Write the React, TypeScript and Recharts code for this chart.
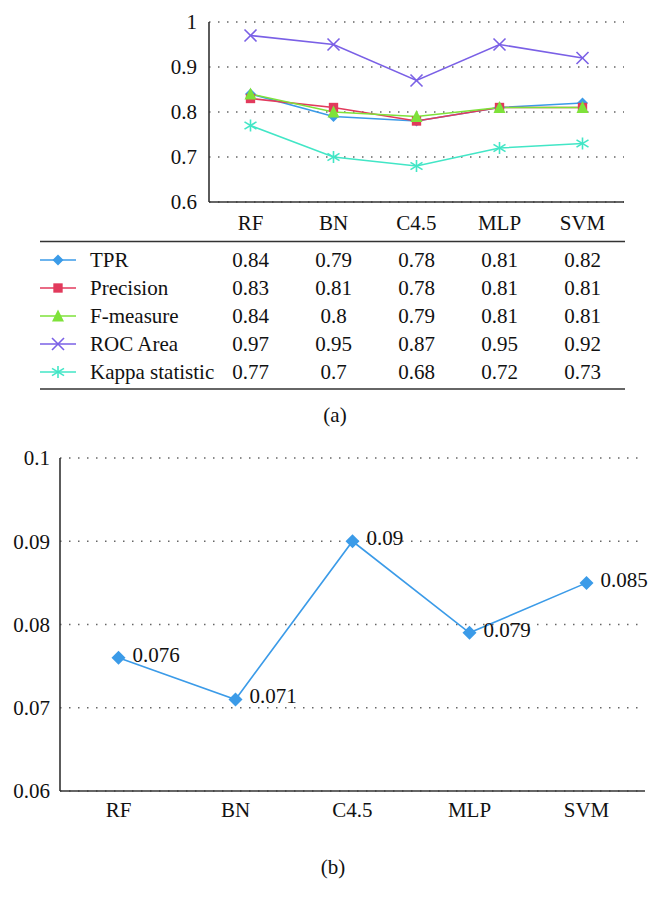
import React from 'react';
import { LineChart, Line, XAxis, YAxis, CartesianGrid } from 'recharts';

const categories = ['RF', 'BN', 'C4.5', 'MLP', 'SVM'];
const tprValues = [0.84, 0.79, 0.78, 0.81, 0.82];
const precisionValues = [0.83, 0.81, 0.78, 0.81, 0.81];
const fMeasureValues = [0.84, 0.8, 0.79, 0.81, 0.81];
const rocAreaValues = [0.97, 0.95, 0.87, 0.95, 0.92];
const kappaValues = [0.77, 0.7, 0.68, 0.72, 0.73];
const errorValues = [0.076, 0.071, 0.09, 0.079, 0.085];
const topTicks = [0.6, 0.7, 0.8, 0.9, 1];
const bottomTicks = [0.06, 0.07, 0.08, 0.09, 0.1];

const FONT = '"Liberation Serif", "DejaVu Serif", serif';
const AXIS = '#333333';

type MarkerType = 'diamond' | 'square' | 'triangle' | 'cross' | 'star';

const series: { key: string; name: string; color: string; marker: MarkerType; values: number[] }[] = [
  { key: 'tpr', name: 'TPR', color: '#3b9be8', marker: 'diamond', values: tprValues },
  { key: 'precision', name: 'Precision', color: '#e23a5c', marker: 'square', values: precisionValues },
  { key: 'fmeasure', name: 'F-measure', color: '#7ee23a', marker: 'triangle', values: fMeasureValues },
  { key: 'roc', name: 'ROC Area', color: '#7a60e6', marker: 'cross', values: rocAreaValues },
  { key: 'kappa', name: 'Kappa statistic', color: '#42e6c6', marker: 'star', values: kappaValues },
];

const topData = categories.map((c, i) => {
  const row: any = { name: c };
  series.forEach((s) => {
    row[s.key] = s.values[i];
  });
  return row;
});

const bottomData = categories.map((c, i) => ({ name: c, error: errorValues[i] }));

function Marker({ cx, cy, color, type, size }: { cx: number; cy: number; color: string; type: MarkerType; size: number }) {
  const h = size / 2;
  if (type === 'diamond') {
    return <polygon points={`${cx},${cy - h} ${cx + h},${cy} ${cx},${cy + h} ${cx - h},${cy}`} fill={color} />;
  }
  if (type === 'square') {
    const s = size * 0.85;
    return <rect x={cx - s / 2} y={cy - s / 2} width={s} height={s} fill={color} />;
  }
  if (type === 'triangle') {
    return <polygon points={`${cx},${cy - h - 1} ${cx + h + 0.5},${cy + h} ${cx - h - 0.5},${cy + h}`} fill={color} />;
  }
  if (type === 'cross') {
    return (
      <g stroke={color} strokeWidth={1.6}>
        <line x1={cx - h} y1={cy - h} x2={cx + h} y2={cy + h} />
        <line x1={cx - h} y1={cy + h} x2={cx + h} y2={cy - h} />
      </g>
    );
  }
  return (
    <g stroke={color} strokeWidth={1.6}>
      <line x1={cx - h} y1={cy - h * 0.6} x2={cx + h} y2={cy + h * 0.6} />
      <line x1={cx - h} y1={cy + h * 0.6} x2={cx + h} y2={cy - h * 0.6} />
      <line x1={cx} y1={cy - h} x2={cx} y2={cy + h} />
    </g>
  );
}

const tickStyle = { fontFamily: FONT, fontSize: 21, fill: '#111' };

function ErrorLabel(props: any) {
  const { x, y, value } = props;
  return (
    <text x={x + 14} y={y + 4} fontFamily={FONT} fontSize={21} fill="#111">
      {String(value)}
    </text>
  );
}

const colCenters = [250.5, 333.5, 416.5, 499.5, 582.5];
const rowCenters = [260, 288, 316, 344, 372];

export default function App() {
  return (
    <div style={{ position: 'absolute', left: 0, top: 0, width: 662, height: 897, background: '#fff', fontFamily: FONT }}>
      <div style={{ position: 'absolute', left: 0, top: 0 }}>
        <LineChart width={662} height={240} data={topData} margin={{ top: 22, right: 38, left: 0, bottom: 0 }}>
          <CartesianGrid vertical={false} stroke="#666" strokeWidth={1.5} strokeDasharray="1.5 7.5" />
          <XAxis
            dataKey="name"
            scale="band"
            height={38}
            tickLine={false}
            tickSize={0}
            tickMargin={13}
            tick={tickStyle}
            stroke={AXIS}
            strokeWidth={1.6}
            interval={0}
          />
          <YAxis
            width={209}
            domain={[0.6, 1]}
            ticks={topTicks}
            tickLine={false}
            tickSize={0}
            tickMargin={12}
            tick={tickStyle}
            stroke={AXIS}
            strokeWidth={1.6}
            tickFormatter={(v: number) => String(v)}
          />
          {series.map((s) => (
            <Line
              key={s.key}
              dataKey={s.key}
              stroke={s.color}
              strokeWidth={1.6}
              isAnimationActive={false}
              dot={(p: any) => (
                <Marker key={`${s.key}-${p.index}`} cx={p.cx} cy={p.cy} color={s.color} type={s.marker} size={s.marker === 'cross' || s.marker === 'star' ? 12 : 11} />
              )}
              activeDot={false}
            />
          ))}
        </LineChart>
      </div>
      <svg style={{ position: 'absolute', left: 0, top: 0 }} width={662} height={440}>
        <line x1={40} x2={625} y1={241.5} y2={241.5} stroke={AXIS} strokeWidth={1.6} />
        <line x1={40} x2={625} y1={389} y2={389} stroke={AXIS} strokeWidth={1.6} />
        {series.map((s, r) => (
          <g key={s.key}>
            <line x1={40} x2={76} y1={rowCenters[r]} y2={rowCenters[r]} stroke={s.color} strokeWidth={1.6} />
            <Marker cx={58} cy={rowCenters[r]} color={s.color} type={s.marker} size={s.marker === 'cross' || s.marker === 'star' ? 12 : 11} />
            <text x={90} y={rowCenters[r] + 7} fontFamily={FONT} fontSize={21} fill="#111">
              {s.name}
            </text>
            {s.values.map((v, c) => (
              <text key={c} x={colCenters[c]} y={rowCenters[r] + 7} textAnchor="middle" fontFamily={FONT} fontSize={21} fill="#111">
                {String(v)}
              </text>
            ))}
          </g>
        ))}
        <text x={335} y={422} textAnchor="middle" fontFamily={FONT} fontSize={21} fill="#111">
          (a)
        </text>
      </svg>
      <div style={{ position: 'absolute', left: 0, top: 440 }}>
        <LineChart width={662} height={391} data={bottomData} margin={{ top: 18, right: 17, left: 0, bottom: 0 }}>
          <CartesianGrid vertical={false} stroke="#666" strokeWidth={1.5} strokeDasharray="1.5 7.5" />
          <XAxis
            dataKey="name"
            scale="band"
            height={40}
            tickLine={false}
            tickSize={0}
            tickMargin={11}
            tick={tickStyle}
            stroke={AXIS}
            strokeWidth={1.6}
            interval={0}
          />
          <YAxis
            width={60}
            domain={[0.06, 0.1]}
            ticks={bottomTicks}
            tickLine={false}
            tickSize={0}
            tickMargin={10}
            tick={tickStyle}
            stroke={AXIS}
            strokeWidth={1.6}
            tickFormatter={(v: number) => String(v)}
          />
          <Line
            dataKey="error"
            stroke="#3b9be8"
            strokeWidth={1.6}
            isAnimationActive={false}
            dot={(p: any) => <Marker key={`e-${p.index}`} cx={p.cx} cy={p.cy} color="#3b9be8" type="diamond" size={14} />}
            activeDot={false}
            label={<ErrorLabel />}
          />
        </LineChart>
      </div>
      <svg style={{ position: 'absolute', left: 0, top: 840 }} width={662} height={57}>
        <text x={333} y={34} textAnchor="middle" fontFamily={FONT} fontSize={21} fill="#111">
          (b)
        </text>
      </svg>
    </div>
  );
}
